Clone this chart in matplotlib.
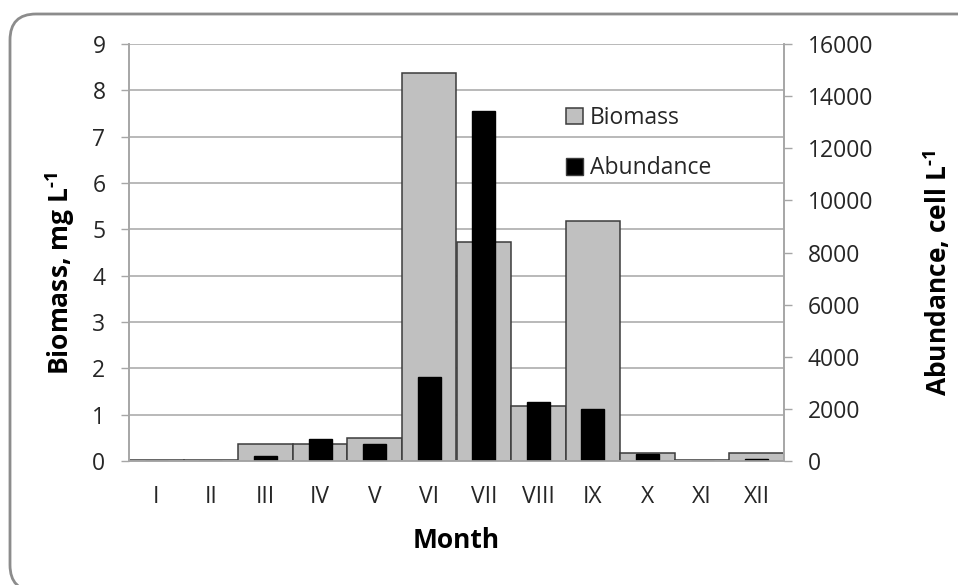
import numpy as np
import matplotlib
matplotlib.use("Agg")
from matplotlib import pyplot as plt
from matplotlib.patches import FancyBboxPatch, Patch
from matplotlib.transforms import IdentityTransform

months = ['I', 'II', 'III', 'IV', 'V', 'VI', 'VII', 'VIII', 'IX', 'X', 'XI', 'XII']
biomass = [0.02, 0.02, 0.36, 0.36, 0.49, 8.38, 4.72, 1.19, 5.19, 0.17, 0.02, 0.17]
abundance = [0, 0, 190, 830, 640, 3210, 13440, 2270, 1985, 280, 0, 90]

plt.rcParams['font.family'] = ['Open Sans', 'DejaVu Sans']
plt.rcParams['mathtext.fontset'] = 'custom'
plt.rcParams['mathtext.rm'] = 'Open Sans:bold'
plt.rcParams['mathtext.bf'] = 'Open Sans:bold'
W, H = 958, 585
fig = plt.figure(figsize=(W / 100, H / 100), dpi=100)

# rounded chart border (pixel coords), right side runs off the picture like the original
border = FancyBboxPatch((10, -6), 985, H - 14 + 6, boxstyle="round,pad=0,rounding_size=26",
                        transform=IdentityTransform(), facecolor='none', edgecolor='#8c8c8c',
                        lw=2, zorder=-1)
fig.patches.append(border)

left, right, top, bottom = 129, 784, 44, 461
ax = fig.add_axes([left / W, 1 - bottom / H, (right - left) / W, (bottom - top) / H])
ax.patch.set_alpha(0)
ax2 = ax.twinx()

x = np.arange(len(months))
gray = '#c0c0c0'
axis_col = '#a6a6a6'

ax.bar(x, biomass, width=1.0, color=gray, edgecolor='#3c3c3c', lw=1.1, label='Biomass', zorder=2)
ax2.bar(x, abundance, width=0.42, color='black', edgecolor='black', lw=1, label='Abundance', zorder=2)

ax.set_xlim(-0.5, len(months) - 0.5)
ax.set_ylim(0, 9)
ax2.set_ylim(0, 16000)
ax.set_yticks(range(0, 10))
ax2.set_yticks(range(0, 16001, 2000))
ax.set_xticks(x)
ax.set_xticklabels(months)

ax.grid(axis='y', color=axis_col, lw=1.1, zorder=0)
ax.set_axisbelow(True)

for a in (ax, ax2):
    a.spines['top'].set_visible(False)
    for s in ('left', 'right', 'bottom'):
        a.spines[s].set_color(axis_col)
        a.spines[s].set_linewidth(1.2)

ax.tick_params(axis='x', length=0, pad=17, labelsize=16.5, labelcolor='#262626')
ax.tick_params(axis='y', length=6, width=1, color=axis_col, pad=11, labelsize=16.5, labelcolor='#262626')
ax2.tick_params(axis='y', length=6, width=1, color=axis_col, pad=11, labelsize=16.5, labelcolor='#262626')

ax.set_xlabel('Month', fontsize=19, fontweight='bold')
ax.xaxis.set_label_coords(0.5, -0.158)
ax.set_ylabel('Biomass, mg L$^{\\text{-1}}$', fontsize=19, fontweight='bold',
              va='center', rotation_mode='anchor')
ax.yaxis.set_label_coords(-0.105, 0.45)
ax2.set_ylabel('Abundance, cell L$^{\\text{-1}}$', fontsize=19, fontweight='bold',
               rotation=90, va='center', rotation_mode='anchor')
ax2.yaxis.set_label_coords(1.234, 0.45)

handles = [Patch(facecolor=gray, edgecolor='#3c3c3c', lw=1.1), Patch(facecolor='black', edgecolor='#3c3c3c')]
leg = ax2.legend(handles, ['Biomass', 'Abundance'], loc='upper left',
                 bbox_to_anchor=((566 - left) / (right - left), (bottom - 106) / (bottom - top)),
                 frameon=False, fontsize=16.5, handlelength=0.75, handleheight=0.75,
                 handletextpad=0.3, labelspacing=1.15, borderpad=0, borderaxespad=0)
for t in leg.get_texts():
    t.set_color('#262626')

fig.savefig('out.png', dpi=100)
